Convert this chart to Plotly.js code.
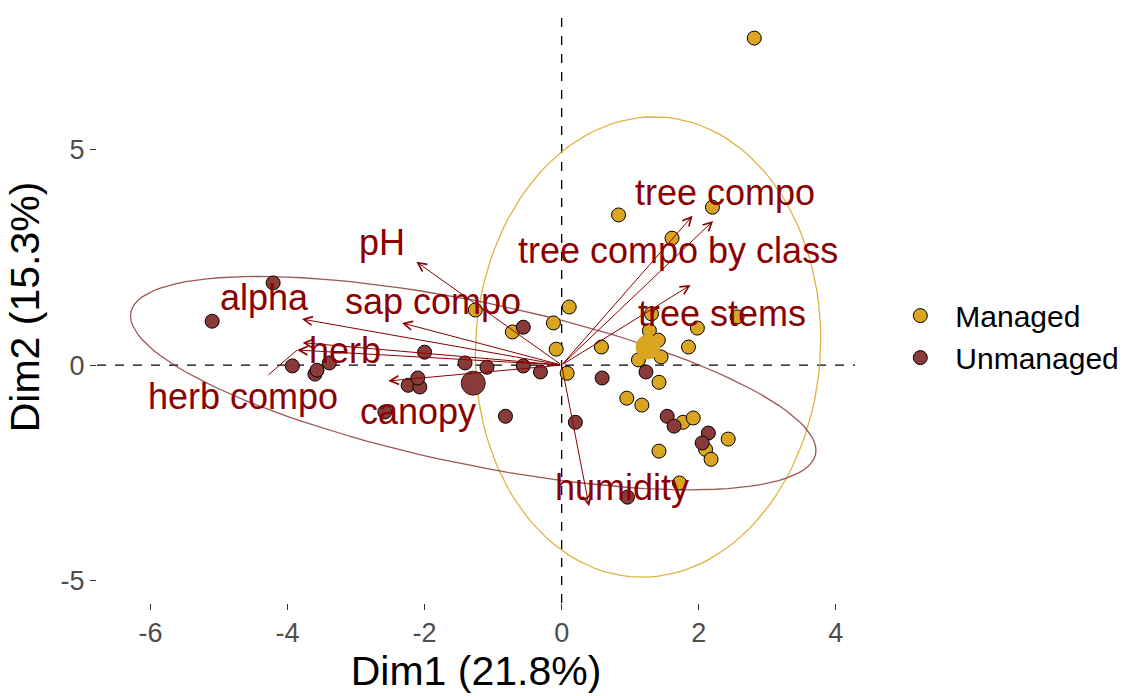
<!DOCTYPE html>
<html><head><meta charset="utf-8">
<script src="https://cdn.plot.ly/plotly-3.0.1.min.js"></script>
<style>html,body{margin:0;padding:0;background:#fff}#chart{width:1125px;height:696px}</style>
</head><body><div id="chart"></div>
<script>
// ---- individuals (PCA coordinates) ----
const managedX = [2.81, 0.83, 2.20, 1.61, 0.11, -0.12, -0.72, -1.26, -0.08, 0.08, 0.58, 1.31, 1.28, 1.41, 1.12, 1.45, 1.98, 1.85, 1.42, 0.95, 1.17, 1.77, 1.92, 2.43, 2.10, 2.18, 1.42, 1.72, 2.56];
const managedY = [7.60, 3.49, 3.67, 2.95, 1.35, 0.98, 0.77, 1.28, 0.37, -0.19, 0.42, 1.19, 0.80, 0.58, 0.12, 0.19, 0.86, 0.42, -0.40, -0.77, -0.93, -1.33, -1.23, -1.72, -1.96, -2.19, -2.00, -2.74, 1.12];
const unmanagedX = [-4.21, -5.10, -3.93, -3.60, -3.57, -3.39, -2.00, -2.24, -2.07, -2.10, -0.56, -1.41, -1.09, -0.56, -0.31, -0.82, -2.58, 0.59, 0.20, 1.23, 1.54, 1.64, 2.14, 2.05, 0.96];
const unmanagedY = [1.91, 1.02, -0.02, -0.21, -0.12, 0.05, 0.30, -0.47, -0.51, -0.30, 0.88, 0.05, -0.05, -0.02, -0.16, -1.19, -1.09, -0.30, -1.33, -0.16, -1.19, -1.42, -1.58, -1.81, -3.07];
// ---- group means ----
const groupNames = ["Managed", "Unmanaged"];
const meanX = [1.26, -1.29];
const meanY = [0.42, -0.42];
// ---- concentration ellipses: half-widths and phase (deg) ----
const ellipseRx = [2.52, 5.00];
const ellipseRy = [5.35, 2.48];
const ellipsePhase = [88, 129];
// ---- variables (arrows) ----
const varNames = ["tree compo", "tree compo by class", "tree stems", "pH", "alpha", "sap compo", "herb", "herb compo", "canopy", "humidity"];
const varX = [2.21, 1.91, 1.88, -2.12, -3.79, -2.33, -3.78, -3.86, -2.53, 0.40];
const varY = [3.35, 3.47, 1.86, 2.40, 1.07, 0.98, 0.52, 0.35, -0.37, -3.28];
const labelX = [2.39, 1.70, 2.34, -2.62, -4.34, -1.88, -3.16, -4.65, -2.09, 0.88];
const labelY = [4.02, 2.67, 1.19, 2.84, 1.56, 1.47, 0.35, -0.74, -1.09, -2.84];
// ---- axis ticks ----
const xTicks = [-6, -4, -2, 0, 2, 4];
const xTickText = ["-6", "-4", "-2", "0", "2", "4"];
const yTicks = [-5, 0, 5];
const yTickText = ["-5", "0", "5"];

const fills = ["#DAA520", "#8B3A3A"];
const varColor = "#8B0000";
const FONT = "Arial, 'Liberation Sans', sans-serif";

function ellipse(g) {
  const xs = [], ys = [];
  const ph = ellipsePhase[g] * Math.PI / 180;
  for (let i = 0; i <= 120; i++) {
    const t = 2 * Math.PI * i / 120;
    xs.push(meanX[g] + ellipseRx[g] * Math.cos(t));
    ys.push(meanY[g] + ellipseRy[g] * Math.cos(t + ph));
  }
  return {xs, ys};
}

const traces = [];
[0, 1].forEach(g => {
  const e = ellipse(g);
  traces.push({x: e.xs, y: e.ys, mode: 'lines', type: 'scatter', showlegend: false,
    legendgroup: groupNames[g], hoverinfo: 'skip',
    line: {color: fills[g], width: 1.3}, opacity: 0.85});
});
const ptsX = [managedX, unmanagedX], ptsY = [managedY, unmanagedY];
[0, 1].forEach(g => {
  traces.push({x: ptsX[g], y: ptsY[g], mode: 'markers', type: 'scatter', name: groupNames[g],
    legendgroup: groupNames[g],
    marker: {size: 14, color: fills[g], line: {color: '#000', width: 1}}});
});
[0, 1].forEach(g => {
  traces.push({x: [meanX[g]], y: [meanY[g]], mode: 'markers', type: 'scatter', showlegend: false,
    legendgroup: groupNames[g],
    marker: {size: 24, color: fills[g], line: {color: g === 0 ? fills[g] : '#3a1a1a', width: 1}}});
});

const annotations = [];
varNames.forEach((n, i) => {
  annotations.push({x: varX[i], y: varY[i], ax: 0, ay: 0, xref: 'x', yref: 'y', axref: 'x', ayref: 'y',
    text: '', showarrow: true, arrowhead: 5, arrowsize: 1.7, arrowwidth: 1, arrowcolor: varColor,
    standoff: 0, startstandoff: 0});
});
varNames.forEach((n, i) => {
  if (n === 'herb compo') {
    annotations.push({x: varX[i], y: varY[i], ax: labelX[i], ay: labelY[i], xref: 'x', yref: 'y',
      axref: 'x', ayref: 'y', text: n, showarrow: true, arrowhead: 0, arrowwidth: 1,
      arrowcolor: varColor, font: {family: FONT, size: 36, color: varColor}});
  } else {
    annotations.push({x: labelX[i], y: labelY[i], xref: 'x', yref: 'y', text: n, showarrow: false,
      xanchor: 'center', yanchor: 'middle', font: {family: FONT, size: 36, color: varColor}});
  }
});

const layout = {
  width: 1125, height: 696,
  margin: {l: 97, r: 270, t: 11, b: 93, autoexpand: false},
  paper_bgcolor: '#fff', plot_bgcolor: '#fff',
  font: {family: FONT},
  showlegend: true,
  legend: {x: 1.04, y: 0.45, xanchor: 'left', yanchor: 'middle', font: {size: 30, color: '#000'},
    itemsizing: 'trace', itemwidth: 60, tracegroupgap: 0},
  xaxis: {range: [-6.78, 4.28], tickvals: xTicks, ticktext: xTickText, showgrid: false, zeroline: false,
    showline: false, ticks: 'outside', ticklen: 6, tickcolor: '#333', tickwidth: 1,
    tickfont: {size: 27, color: '#4D4D4D'},
    title: {text: 'Dim1 (21.8%)', font: {size: 41, color: '#000'}, standoff: 8}},
  yaxis: {range: [-5.53, 8.23], tickvals: yTicks, ticktext: yTickText, showgrid: false, zeroline: false,
    showline: false, ticks: 'outside', ticklen: 6, tickcolor: '#333', tickwidth: 1,
    tickfont: {size: 27, color: '#4D4D4D'},
    title: {text: 'Dim2 (15.3%)', font: {size: 41, color: '#000'}, standoff: 8}},
  shapes: [
    {type: 'line', xref: 'paper', yref: 'y', x0: 0, x1: 1, y0: 0, y1: 0,
      line: {color: '#000', width: 1.3, dash: 'dash'}, layer: 'below'},
    {type: 'line', xref: 'x', yref: 'paper', x0: 0, x1: 0, y0: 0, y1: 1,
      line: {color: '#000', width: 1.3, dash: 'dash'}, layer: 'below'}
  ],
  annotations: annotations
};

Plotly.newPlot('chart', traces, layout, {staticPlot: true, displayModeBar: false});
</script>
</body></html>
